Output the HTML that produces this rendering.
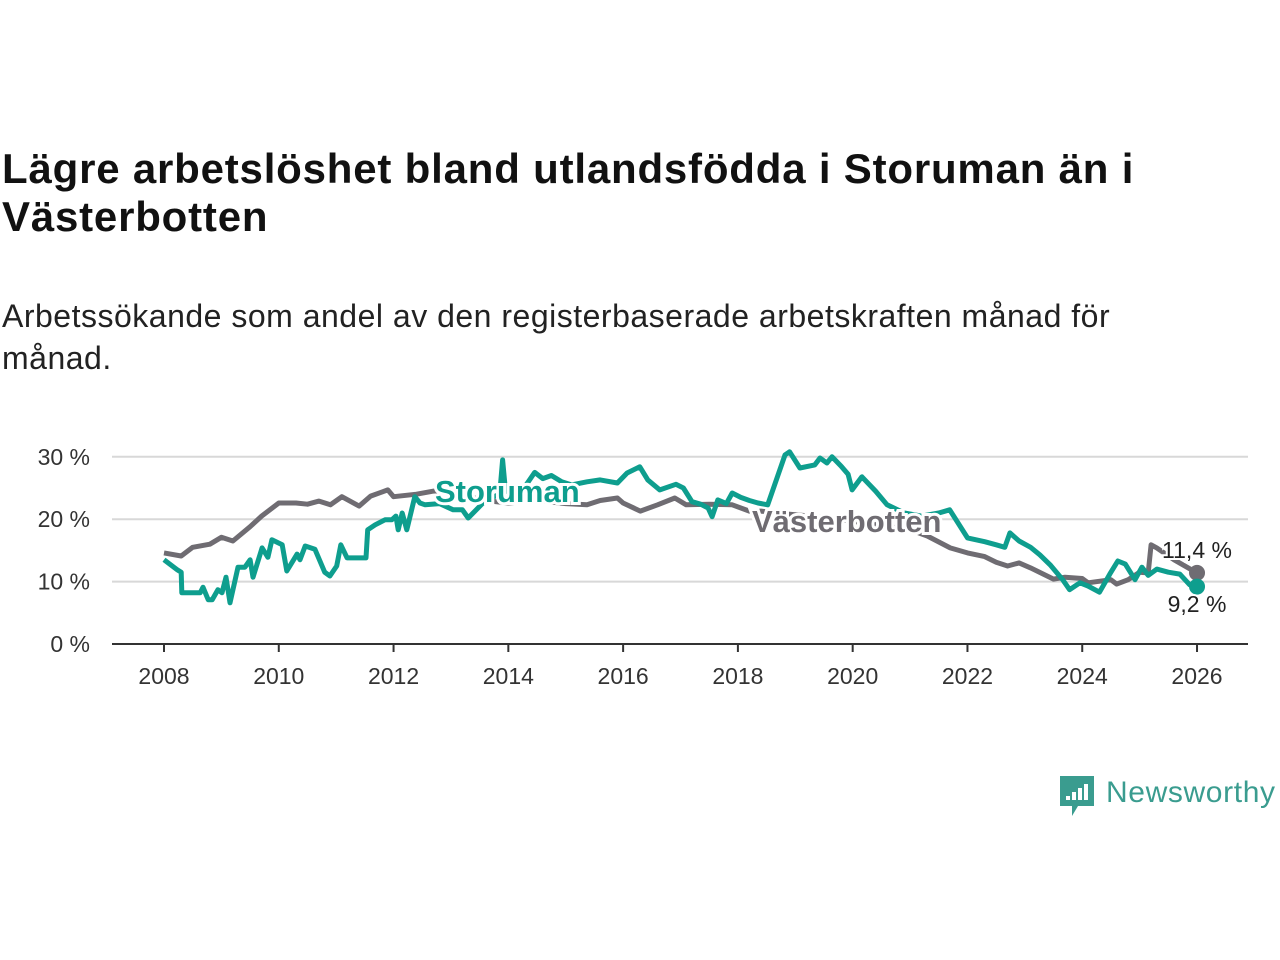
<!DOCTYPE html>
<html><head><meta charset="utf-8"><style>
body{margin:0;width:1280px;height:960px;background:#fff;font-family:"Liberation Sans",sans-serif;overflow:hidden;position:relative}
h1{position:absolute;left:2px;top:145px;margin:0;font-size:42px;line-height:48px;font-weight:bold;color:#111;width:1220px;letter-spacing:0.8px}
p{position:absolute;left:2px;top:295px;margin:0;font-size:32px;line-height:42px;color:#222;width:1185px;letter-spacing:0.5px}
svg{position:absolute;left:0;top:0}
</style></head><body>
<h1>Lägre arbetslöshet bland utlandsfödda i Storuman än i Västerbotten</h1>
<p>Arbetssökande som andel av den registerbaserade arbetskraften månad för månad.</p>
<svg id="c" width="1280" height="960"></svg>
<script>
const yTicks=[0,10,20,30];
const xTicks=[2008,2010,2012,2014,2016,2018,2020,2022,2024,2026];
const vbYears=[2008.0,2008.3,2008.5,2008.8,2009.0,2009.2,2009.5,2009.7,2010.0,2010.3,2010.5,2010.7,2010.9,2011.1,2011.4,2011.6,2011.9,2012.0,2012.4,2012.7,2013.2,2013.6,2014.0,2014.5,2015.0,2015.37,2015.6,2015.9,2016.0,2016.3,2016.6,2016.9,2017.1,2017.5,2017.9,2018.2,2018.4,2018.9,2019.4,2019.9,2020.5,2021.0,2021.3,2021.7,2022.0,2022.3,2022.5,2022.7,2022.9,2023.1,2023.5,2023.7,2024.0,2024.1,2024.5,2024.6,2024.8,2025.0,2025.15,2025.2,2025.3,2025.6,2026.0];
const vbValues=[14.6,14.1,15.5,16.0,17.1,16.5,18.8,20.5,22.6,22.6,22.4,22.9,22.3,23.6,22.1,23.7,24.7,23.6,24.0,24.5,23.8,23.0,22.6,23.0,22.5,22.3,23.0,23.4,22.6,21.3,22.3,23.4,22.3,22.4,22.3,21.3,21.3,20.8,20.4,19.8,19.0,18.3,17.3,15.4,14.6,14.0,13.1,12.5,13.0,12.2,10.4,10.7,10.5,9.8,10.3,9.6,10.3,11.5,11.4,15.9,15.4,13.5,11.4];
const stYears=[2008.00,2008.23,2008.30,2008.31,2008.63,2008.68,2008.77,2008.84,2008.94,2009.01,2009.08,2009.15,2009.29,2009.41,2009.50,2009.55,2009.71,2009.81,2009.88,2010.06,2010.14,2010.32,2010.37,2010.46,2010.63,2010.80,2010.89,2011.01,2011.08,2011.19,2011.52,2011.55,2011.68,2011.85,2011.97,2012.04,2012.08,2012.15,2012.23,2012.37,2012.46,2012.55,2012.8,2013.04,2013.2,2013.3,2013.6,2013.85,2013.9,2013.95,2014.2,2014.46,2014.6,2014.75,2014.93,2015.1,2015.37,2015.6,2015.9,2016.07,2016.29,2016.43,2016.64,2016.92,2017.05,2017.2,2017.35,2017.48,2017.55,2017.65,2017.8,2017.9,2018.05,2018.2,2018.35,2018.52,2018.82,2018.9,2019.08,2019.34,2019.43,2019.55,2019.64,2019.8,2019.92,2019.99,2020.16,2020.4,2020.6,2020.9,2021.2,2021.5,2021.69,2022.0,2022.3,2022.5,2022.65,2022.74,2022.9,2023.1,2023.26,2023.44,2023.66,2023.78,2023.96,2024.1,2024.3,2024.48,2024.62,2024.75,2024.92,2025.04,2025.15,2025.3,2025.5,2025.7,2025.87,2026.0];
const stValues=[13.5,11.9,11.5,8.2,8.2,9.1,7.1,7.1,8.7,8.2,10.7,6.6,12.3,12.3,13.5,10.7,15.4,13.9,16.7,15.9,11.7,14.4,13.5,15.7,15.2,11.5,10.9,12.5,15.9,13.8,13.8,18.3,19.1,19.9,19.9,20.5,18.3,21.0,18.3,23.6,22.6,22.3,22.5,21.5,21.5,20.2,23.0,24.0,29.5,24.5,24.0,27.5,26.5,27.0,26.0,25.5,26.0,26.3,25.8,27.4,28.4,26.3,24.7,25.6,25.0,22.8,22.4,21.8,20.4,23.1,22.5,24.2,23.5,23.0,22.6,22.3,30.3,30.8,28.2,28.7,29.8,29.0,30.0,28.5,27.2,24.7,26.8,24.5,22.3,21.0,20.5,21.0,21.5,17.0,16.4,15.9,15.5,17.8,16.5,15.5,14.3,12.7,10.3,8.7,9.8,9.3,8.3,11.2,13.3,12.8,10.3,12.3,11.0,12.0,11.5,11.2,9.5,9.2];
const NS="http://www.w3.org/2000/svg",svg=document.getElementById('c');
const X=y=>164+(y-2008)*57.39, Y=v=>644-v*6.24;
function mk(t,a,parent){const e=document.createElementNS(NS,t);for(const k in a)e.setAttribute(k,a[k]);(parent||svg).appendChild(e);return e;}
yTicks.forEach(t=>{
 const l=mk('line',{x1:112,x2:1248,y1:Y(t),y2:Y(t),stroke:t?'#d8d8d8':'#333','stroke-width':2});
 
 
 const tx=mk('text',{x:90,y:Y(t)+8,'text-anchor':'end','font-size':23,fill:'#333'});tx.textContent=t+' %';
 
 
});
xTicks.forEach(t=>{
 const l=mk('line',{x1:X(t),x2:X(t),y1:644,y2:652,stroke:'#333','stroke-width':2});
 
 
 const tx=mk('text',{x:X(t),y:684,'text-anchor':'middle','font-size':23,fill:'#333'});tx.textContent=t;
 
 
});
function line(xs,vs,col,name){
 const d=xs.map((x,i)=>(i?'L':'M')+X(x).toFixed(1)+','+Y(vs[i]).toFixed(1)).join('');
 const p=mk('path',{d:d,fill:'none',stroke:col,'stroke-width':5,'stroke-linejoin':'round'});
 
 
}
line(vbYears,vbValues,'#6f6c72','vasterbotten-line');
line(stYears,stValues,'#0e9e8e','storuman-line');
function lab(x,y,txt,col,name,fs){
 const t=mk('text',{x:x,y:y,'font-size':fs,'font-weight':'bold',fill:col,stroke:'#fff','stroke-width':6,'paint-order':'stroke'});t.textContent=txt;
 
 
}
lab(435,502,'Storuman','#0e9e8e','storuman-label',31);
lab(752,532,'Västerbotten','#6f6c72','vasterbotten-label',31);
const lv=vbValues[vbValues.length-1], ls=stValues[stValues.length-1];
const d1=mk('circle',{cx:X(2026),cy:Y(lv),r:8,fill:'#6f6c72'});


const d2=mk('circle',{cx:X(2026),cy:Y(ls),r:8,fill:'#0e9e8e'});


const e1=mk('text',{x:1197,y:558,'text-anchor':'middle','font-size':23,fill:'#222',stroke:'#fff','stroke-width':4,'paint-order':'stroke'});e1.textContent=String(lv).replace('.',',')+' %';


const e2=mk('text',{x:1197,y:612,'text-anchor':'middle','font-size':23,fill:'#222',stroke:'#fff','stroke-width':4,'paint-order':'stroke'});e2.textContent=String(ls).replace('.',',')+' %';


const g=mk('g',{});


mk('path',{d:'M1060,776 h34 v30 h-16 l-6,10 v-10 h-12 z',fill:'#3a9c8f'},g);
[[1066,796,4],[1072,792,8],[1078,788,12],[1084,784,16]].forEach(b=>mk('rect',{x:b[0],y:b[1],width:4,height:b[2]},g).setAttribute('fill','#fff'));
const lt=mk('text',{x:1106,y:802,'font-size':30,fill:'#3a9c8f',textLength:169},g);lt.textContent='Newsworthy';
</script>
</body></html>
